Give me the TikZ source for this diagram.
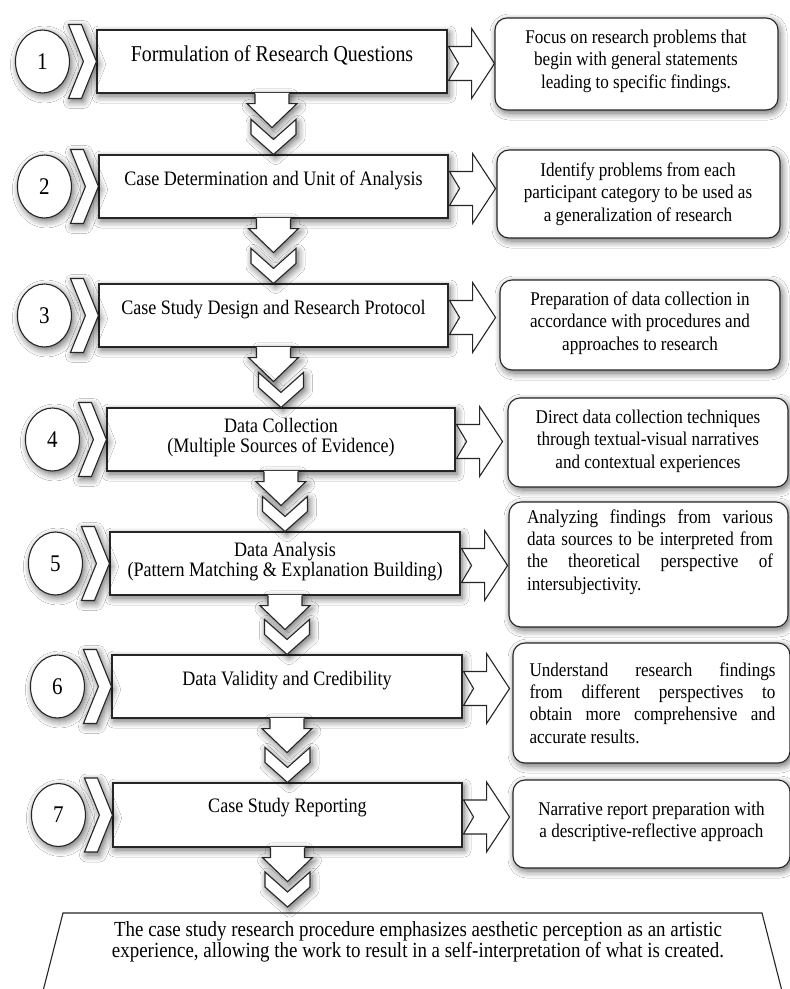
\documentclass[tikz,border=0pt]{standalone}
\usepackage{fontspec}
\setmainfont{Liberation Serif}[FakeStretch=0.88]
\usetikzlibrary{calc,shapes.geometric,shadows.blur}

\tikzset{
  ln/.style={draw=black!85, line width=1.1bp},
  shd/.style={blur shadow={shadow blur radius=7bp, shadow xshift=2bp, shadow yshift=-3bp, shadow opacity=60, shadow blur steps=7}},
  mainbox/.style={ln, fill=white, minimum width=350bp, minimum height=63bp, inner sep=0pt, shd},
  mtext/.style={align=center, inner sep=0pt, font=\fontsize{20.6}{20}\selectfont},
  numbox/.style={ellipse, ln, fill=white, minimum width=54bp, minimum height=63bp, inner sep=0pt, shd, font=\fontsize{24}{24}\selectfont},
  rbox/.style={ln, fill=white, rounded corners=12bp, inner sep=0pt, shd},
  rtext/.style={align=center, inner sep=0pt, font=\fontsize{19.5}{22.5}\selectfont},
  jtext/.style={align=left, inner sep=0pt, font=\fontsize{19.5}{22.5}\selectfont},
  btext/.style={align=center, inner sep=0pt, font=\fontsize{21.6}{20.5}\selectfont},
}

\newcommand{\lchev}[1]{%
  \begin{scope}[shift={(#1.west)}]
    \draw[ln, fill=white, shd] (0,0) -- (-15,-37) -- (-28,-37) -- (-13,0) -- (-28,37) -- (-15,37) -- cycle;
  \end{scope}}
\newcommand{\rarr}[1]{%
  \begin{scope}[shift={($(#1.east)+(0,2)$)}]
    \draw[ln, fill=white] (1,-17) -- (24,-17) -- (24,-35) -- (47,0) -- (24,35) -- (24,17) -- (1,17) -- (11,0) -- cycle;
  \end{scope}}
\newcommand{\dconn}[2]{%
  \begin{scope}[shift={(#1)}]
    \fill[white, shd] (-17,-0.8) -- (-17,10) -- (-25,10) -- (0,34) -- (25,10) -- (17,10) -- (17,-0.8) -- cycle;
    \draw[ln] (-17,0) -- (-17,10) -- (-25,10) -- (0,34) -- (25,10) -- (17,10) -- (17,0);
  \end{scope}
  \begin{scope}[shift={(#2)}]
    \draw[ln, fill=white, shd] (-22.5,-35) -- (0,-15) -- (22.5,-35) -- (22.5,-20) -- (0,0) -- (-22.5,-20) -- cycle;
  \end{scope}}
\newlength{\jw}\setlength{\jw}{246bp}

\begin{document}
\begin{tikzpicture}[x=1bp, y=-1bp]
\useasboundingbox (0,0) rectangle (790,989);
\fill[white] (0,0) rectangle (790,989);

% main boxes
\node[mainbox] (b1) at (272,61.5) {};
\node[mainbox, minimum width=349bp] (b2) at (273.5,186.5) {};
\node[mainbox, minimum width=349bp] (b3) at (273.5,315.5) {};
\node[mainbox, minimum width=348bp] (b4) at (281,439.5) {};
\node[mainbox] (b5) at (285,563.5) {};
\node[mainbox] (b6) at (287,686.5) {};
\node[mainbox, minimum width=349bp, minimum height=64bp] (b7) at (287.5,815) {};

\node[mtext, font=\fontsize{22.7}{22}\selectfont] (t1) at ($(b1.center)+(0,-6)$) {Formulation of Research Questions};
\node[mtext] (t2) at ($(b2.center)+(0,-6)$) {Case Determination and Unit of Analysis};
\node[mtext] (t3) at ($(b3.center)+(0,-6)$) {Case Study Design and Research Protocol};
\node[mtext] (t4) at ($(b4.center)+(0,-2)$) {Data Collection\\(Multiple Sources of Evidence)};
\node[mtext] (t5) at ($(b5.center)+(0,-2)$) {Data Analysis\\(Pattern Matching \& Explanation Building)};
\node[mtext] (t6) at ($(b6.center)+(0,-6)$) {Data Validity and Credibility};
\node[mtext] (t7) at ($(b7.center)+(0,-7)$) {Case Study Reporting};

% chevrons and number circles
\foreach \i in {1,...,7}{
  \lchev{b\i}
  \node[numbox] (n\i) at ($(b\i.west)+(-54,0)$) {\i};
}

% right block arrows
\foreach \i in {1,...,7}{\rarr{b\i}}

% right rounded boxes
\node[rbox, minimum width=283bp, minimum height=92bp] (r1) at (636.5,64) {};
\node[rbox, minimum width=283bp, minimum height=88bp] (r2) at (638.5,194) {};
\node[rbox, minimum width=280bp, minimum height=90bp] (r3) at (640,325) {};
\node[rbox, minimum width=280bp, minimum height=89bp] (r4) at (648,442.5) {};
\node[rbox, minimum width=279bp, minimum height=125bp] (r5) at (648.5,564.5) {};
\node[rbox, minimum width=277bp, minimum height=120bp] (r6) at (651.5,703) {};
\node[rbox, minimum width=277bp, minimum height=88bp] (r7) at (651.5,824) {};

\node[rtext] (s1) at (636,61) {Focus on research problems that\\begin with general statements\\leading to specific findings.};
\node[rtext] (s2) at (638,194) {Identify problems from each\\participant category to be used as\\a generalization of research};
\node[rtext] (s3) at (640,323) {Preparation of data collection in\\accordance with procedures and\\approaches to research};
\node[rtext] (s4) at (648,441) {Direct data collection techniques\\through textual-visual narratives\\and contextual experiences};
\node[jtext] (s5) at (650,552) {\makebox[\jw][s]{Analyzing findings from various}\\\makebox[\jw][s]{data sources to be interpreted from}\\\makebox[\jw][s]{the theoretical perspective of}\\intersubjectivity.};
\node[jtext] (s6) at (652.5,703) {\makebox[\jw][s]{Understand research findings}\\\makebox[\jw][s]{from different perspectives to}\\\makebox[\jw][s]{obtain more comprehensive and}\\accurate results.};
\node[rtext] (s7) at (651.5,822) {Narrative report preparation with\\a descriptive-reflective approach};

% bottom summary trapezoid
\draw[ln, fill=white] (42,995) -- (63,913) -- (762,913) -- (783,995);
\coordinate (sumtop) at (287.5,907);
\node[btext] (sum) at (418,942) {The case study research procedure emphasizes aesthetic perception as an artistic\\experience, allowing the work to result in a self-interpretation of what is created.};

% down connectors
\dconn{b1.south}{b2.north}
\dconn{b2.south}{b3.north}
\dconn{b3.south}{b4.north}
\dconn{b4.south}{b5.north}
\dconn{b5.south}{b6.north}
\dconn{b6.south}{b7.north}
\dconn{b7.south}{sumtop}
\end{tikzpicture}
\end{document}
